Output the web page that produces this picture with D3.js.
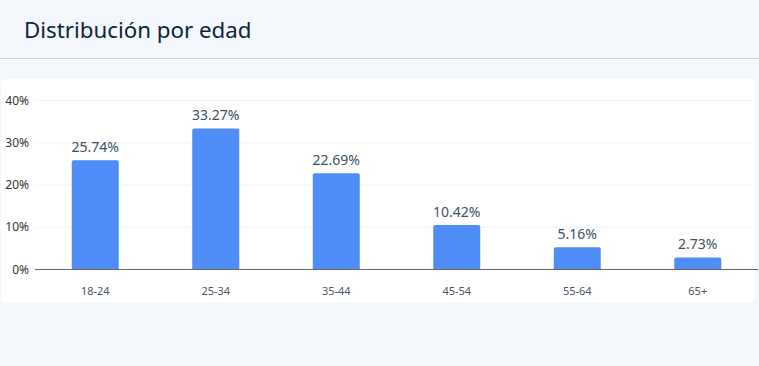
<!DOCTYPE html>
<meta charset="utf-8">
<style>
  body { margin: 0; background: #f4f7fc; font-family: "Noto Sans", sans-serif; }
  svg { display: block; }
  svg text { font-family: "Noto Sans", sans-serif; }
  .grid line { stroke: #f1f3f5; }
  .grid path { display: none; }
  .yaxis text { fill: #333; font-size: 12px; }
  .xaxis text { fill: #4a5568; font-size: 11px; }
  .bar { fill: #4f8ef7; }
  .val { fill: #3d4f66; font-size: 14px; text-anchor: middle; }
</style>
<body>
<script src="https://cdn.jsdelivr.net/npm/d3@7"></script>
<script>

  var categories = ["18-24", "25-34", "35-44", "45-54", "55-64", "65+"];
  var values = [25.74, 33.27, 22.69, 10.42, 5.16, 2.73];
  var yTicks = [0, 10, 20, 30, 40];

  var W = 759, H = 366;

  var svg = d3.select("body").append("svg")
      .attr("width", W)
      .attr("height", H);

  // header
  svg.append("line").attr("x1", 0).attr("x2", W).attr("y1", 58.5).attr("y2", 58.5)
      .attr("stroke", "#cdd2da");
  svg.append("text").attr("x", 24).attr("y", 38)
      .attr("fill", "#0d2340").style("font-size", "22.3px")
      .text("Distribución por edad");

  // card
  svg.append("rect").attr("x", 1).attr("y", 79).attr("width", 754).attr("height", 224)
      .attr("rx", 6).attr("fill", "#fff");

  var x = d3.scaleBand().domain(categories).range([35, 758])
      .paddingInner(0.61).paddingOuter(0.305);
  var y = d3.scaleLinear().domain([0, 40]).range([269, 100]);

  svg.append("g").attr("class", "grid")
      .attr("transform", "translate(35,0)")
      .call(d3.axisLeft(y).tickValues(yTicks.slice(1)).tickSize(-720).tickFormat(""));

  svg.append("g").attr("class", "yaxis")
      .attr("transform", "translate(35,0)")
      .call(d3.axisLeft(y).tickValues(yTicks).tickSize(0).tickPadding(6).tickFormat(function(d) { return d + "%"; }))
      .call(function(g) { g.select(".domain").remove(); g.selectAll("text").attr("dy", "0.35em"); });

  var r = 2;
  svg.selectAll("path.bar").data(values).enter()
      .append("path")
      .attr("class", "bar")
      .attr("d", function(d, i) {
        var x0 = x(categories[i]), w = x.bandwidth(), y0 = y(d), b = y(0);
        return "M" + x0 + "," + b + "V" + (y0 + r) + "Q" + x0 + "," + y0 + " " + (x0 + r) + "," + y0 +
            "H" + (x0 + w - r) + "Q" + (x0 + w) + "," + y0 + " " + (x0 + w) + "," + (y0 + r) + "V" + b + "Z";
      });

  svg.selectAll("text.val").data(values).enter()
      .append("text")
      .attr("class", "val")
      .attr("x", function(d, i) { return x(categories[i]) + x.bandwidth() / 2; })
      .attr("y", function(d) { return y(d) - 8; })
      .text(function(d) { return d.toFixed(2) + "%"; });

  svg.append("g").attr("class", "xaxis")
      .attr("transform", "translate(0,269)")
      .call(d3.axisBottom(x).tickSize(0).tickPadding(18))
      .call(function(g) {
        g.select(".domain").attr("stroke", "#666").attr("d", "M35,0.5H758");
      });

</script>
